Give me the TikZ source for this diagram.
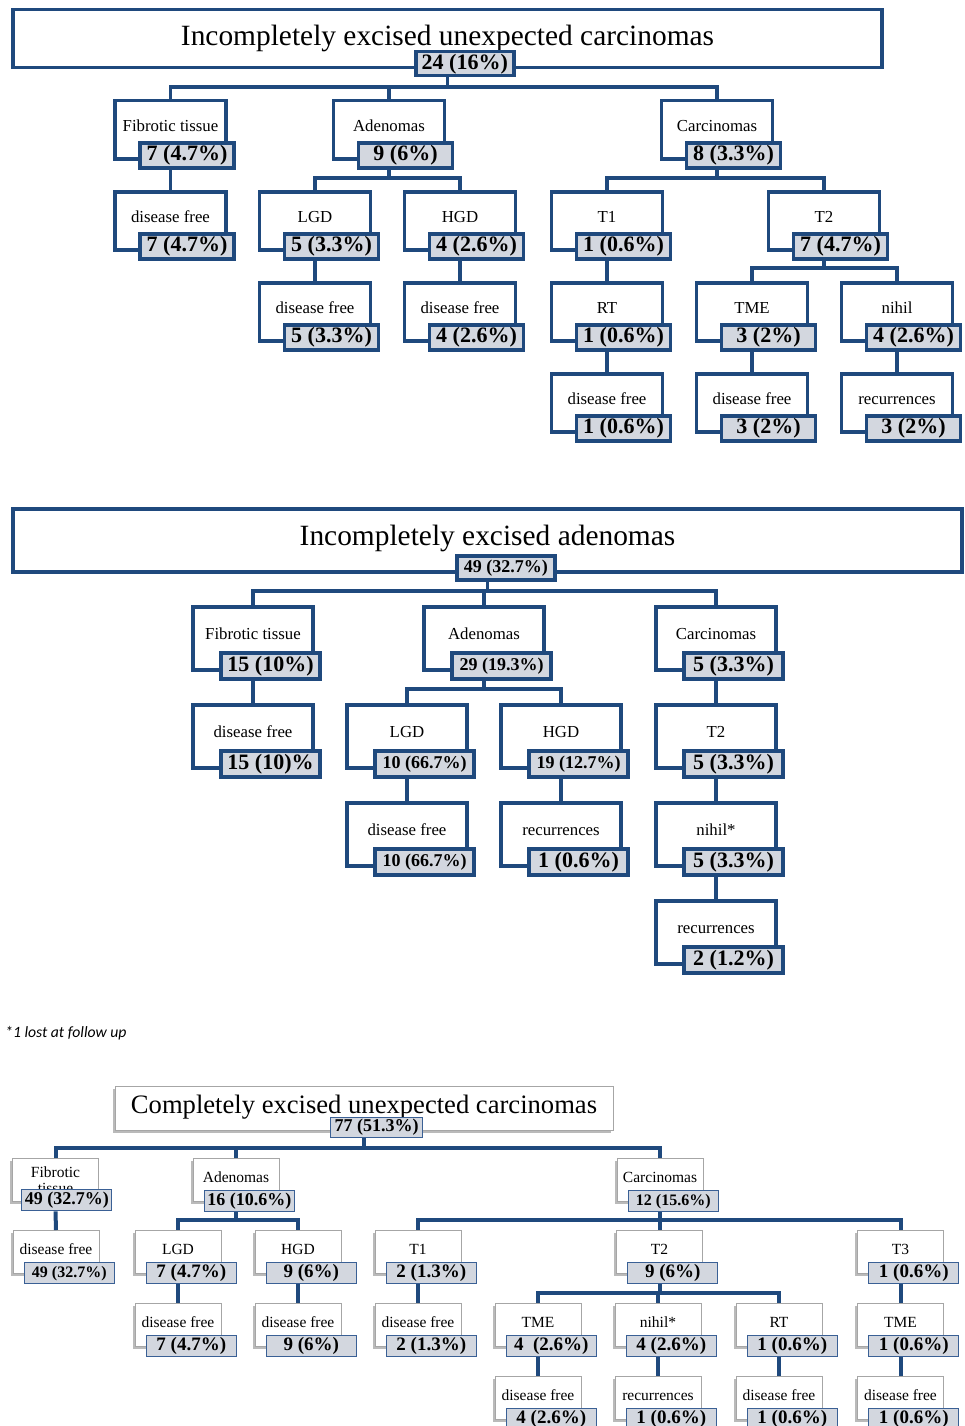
\documentclass[tikz,border=0pt]{standalone}
\usepackage{fontspec}
\setmainfont{Liberation Serif}
\newfontfamily\notefont{Carlito}
\usetikzlibrary{calc,shadows}
\definecolor{dblue}{HTML}{1F497D}
\definecolor{vfill}{HTML}{D3D7DF}
\definecolor{vline}{HTML}{3A6095}
\newcommand\fTitleA{\fontsize{29.4pt}{34pt}\selectfont}
\newcommand\fTitleC{\fontsize{26.6pt}{30pt}\selectfont}
\newcommand\fLabA{\fontsize{16.8pt}{19pt}\selectfont}
\newcommand\fLabC{\fontsize{15.5pt}{16pt}\selectfont}
\newcommand\fValA{\fontsize{22pt}{24pt}\selectfont\bfseries}
\newcommand\fValS{\fontsize{18pt}{20pt}\selectfont\bfseries}
\newcommand\fValC{\fontsize{19pt}{21pt}\selectfont\bfseries}
\newcommand\fValCs{\fontsize{16pt}{18pt}\selectfont\bfseries}
\newcommand\bA[6][\fValA]{%
  \node[wA] (#2) at (#3,#4) {#5};
  \node[vA,font=#1] (#2v) at ($(#2.north west)+(25,42)$) {#6};}
\newcommand\bB[6][\fValA]{%
  \node[wB] (#2) at (#3,#4) {#5};
  \node[vB,font=#1] (#2v) at ($(#2.north west)+(28,46)$) {#6};}
\newcommand\bC[6][\fValC]{%
  \node[wC] (#2) at (#3,#4) {#5};
  \node[vC,font=#1] (#2v) at ($(#2.north west)+(11,32)$) {#6};}
\newcommand\lnS[3][conn]{\draw[#1] (#2 |- #2v.south) -- (#3.north);}
\newcommand\lnB[4][conn]{\draw[#1] (#2 |- #2v.south) |- (#3.north |- #4) -- (#3.north);}
\begin{document}
\begin{tikzpicture}[x=1pt,y=-1pt,
  conn/.style={draw=dblue,line width=3.5pt},
  connC/.style={draw=dblue,line width=4pt},
  wA/.style={anchor=north,draw=dblue,line width=3.5pt,fill=white,minimum width=111pt,inner xsep=0pt,inner ysep=0pt,text height=31pt,text depth=27pt,font=\fLabA},
  vA/.style={anchor=north west,draw=dblue,line width=3.5pt,fill=vfill,minimum width=94pt,minimum height=25pt,inner sep=0pt},
  wB/.style={anchor=north,draw=dblue,line width=3.5pt,fill=white,minimum width=120pt,inner xsep=0pt,inner ysep=0pt,text height=33pt,text depth=30pt,font=\fLabA},
  vB/.style={anchor=north west,draw=dblue,line width=3.5pt,fill=vfill,minimum width=99pt,minimum height=26pt,inner sep=0pt},
  wCbase/.style={anchor=north,draw=black!35,line width=0.8pt,fill=white,minimum width=86pt,inner xsep=0pt,inner ysep=0pt,font=\fLabC,
     drop shadow={shadow xshift=-2.5pt,shadow yshift=-2.5pt,opacity=0.45,fill=black!60}},
  wC/.style={wCbase,text height=24.5pt,text depth=18.5pt},
  vC/.style={anchor=north west,draw=vline,line width=1.3pt,fill=vfill,minimum width=90pt,minimum height=21pt,inner sep=0pt},
  tA/.style={anchor=north,draw=dblue,line width=3.5pt,fill=white,inner sep=0pt,font=\fTitleA}
]
\useasboundingbox (0,0) rectangle (965,1426);
\clip (0,0) rectangle (965,1426);

% ---------------- Section 1 ----------------
\coordinate (a0) at (0,87);
\coordinate (a1) at (0,178);
\coordinate (a2) at (0,268);
\node[tA,minimum width=869pt,text height=36pt,text depth=22pt] (t1) at (447.5,8) {Incompletely excised unexpected carcinomas};
\node[vA,font=\fValA,minimum width=98pt,minimum height=24pt] (t1v) at (414,50) {24 (16\%)};
\bA{A1}{170.5}{99}{Fibrotic tissue}{7 (4.7\%)}
\bA{A2}{389}{99}{Adenomas}{9 (6\%)}
\bA{A3}{717}{99}{Carcinomas}{8 (3.3\%)}
\bA{A11}{170.5}{190}{disease free}{7 (4.7\%)}
\bA{A21}{315}{190}{LGD}{5 (3.3\%)}
\bA{A22}{460}{190}{HGD}{4 (2.6\%)}
\bA{A31}{607}{190}{T1}{1 (0.6\%)}
\bA{A32}{824}{190}{T2}{7 (4.7\%)}
\bA{A211}{315}{281}{disease free}{5 (3.3\%)}
\bA{A221}{460}{281}{disease free}{4 (2.6\%)}
\bA{A311}{607}{281}{RT}{1 (0.6\%)}
\bA{A321}{752}{281}{TME}{3 (2\%)}
\bA{A322}{897}{281}{nihil}{4 (2.6\%)}
\bA{A3111}{607}{372}{disease free}{1 (0.6\%)}
\bA{A3211}{752}{372}{disease free}{3 (2\%)}
\bA{A3221}{897}{372}{recurrences}{3 (2\%)}
\lnB{t1}{A1}{a0}\lnB{t1}{A2}{a0}\lnB{t1}{A3}{a0}
\lnS{A1}{A11}
\lnB{A2}{A21}{a1}\lnB{A2}{A22}{a1}
\lnB{A3}{A31}{a1}\lnB{A3}{A32}{a1}
\lnS{A21}{A211}\lnS{A22}{A221}\lnS{A31}{A311}
\lnB{A32}{A321}{a2}\lnB{A32}{A322}{a2}
\lnS{A311}{A3111}\lnS{A321}{A3211}\lnS{A322}{A3221}

% ---------------- Section 2 ----------------
\coordinate (b0) at (0,591);
\coordinate (b1) at (0,689);
\node[tA,minimum width=949pt,text height=37pt,text depth=26pt] (t2) at (487.5,507) {Incompletely excised adenomas};
\node[vA,font=\fValS,minimum width=98pt,minimum height=24pt] (t2v) at (455,554) {49 (32.7\%)};
\bB{B1}{253}{605}{Fibrotic tissue}{15 (10\%)}
\bB[\fValS]{B2}{484}{605}{Adenomas}{29 (19.3\%)}
\bB{B3}{716}{605}{Carcinomas}{5 (3.3\%)}
\bB{B11}{253}{703}{disease free}{15 (10)\%}
\bB[\fValS]{B21}{407}{703}{LGD}{10 (66.7\%)}
\bB[\fValS]{B22}{561}{703}{HGD}{19 (12.7\%)}
\bB{B31}{716}{703}{T2}{5 (3.3\%)}
\bB[\fValS]{B211}{407}{801}{disease free}{10 (66.7\%)}
\bB{B221}{561}{801}{recurrences}{1 (0.6\%)}
\bB{B311}{716}{801}{nihil*}{5 (3.3\%)}
\bB{B3111}{716}{899}{recurrences}{2 (1.2\%)}
\lnB{t2}{B1}{b0}\lnB{t2}{B2}{b0}\lnB{t2}{B3}{b0}
\lnS{B1}{B11}
\lnB{B2}{B21}{b1}\lnB{B2}{B22}{b1}
\lnS{B3}{B31}
\lnS{B21}{B211}\lnS{B22}{B221}\lnS{B31}{B311}\lnS{B311}{B3111}

\node[anchor=base west,inner sep=0pt,font=\notefont\itshape\fontsize{15.7pt}{18pt}\selectfont] (note) at (5,1037) {*1 lost at follow up};

% ---------------- Section 3 ----------------
\coordinate (c0) at (0,1148);
\coordinate (c1) at (0,1220);
\coordinate (c2) at (0,1293);
\node[wCbase,minimum width=498pt,text height=27pt,text depth=17pt,font=\fTitleC] (t3) at (364,1086) {Completely excised unexpected carcinomas};
\node[vC,font=\fValS,minimum width=92pt,minimum height=20pt] (t3v) at (330,1117) {77 (51.3\%)};
\node[wCbase,align=center,minimum height=43pt] (C1) at (55.5,1158) {Fibrotic\\tissue};
\node[vC,font=\fValS] (C1v) at ($(C1.north west)+(9,31)$) {49 (32.7\%)};
\bC[\fValS]{C2}{236}{1158}{Adenomas}{16 (10.6\%)}
\bC[\fValCs]{C3}{660}{1158}{Carcinomas}{12 (15.6\%)}
\bC[\fValCs]{C11}{56}{1230}{disease free}{49 (32.7\%)}
\bC{C21}{178}{1230}{LGD}{7 (4.7\%)}
\bC{C22}{298}{1230}{HGD}{9 (6\%)}
\bC{C31}{418}{1230}{T1}{2 (1.3\%)}
\bC{C32}{659.5}{1230}{T2}{9 (6\%)}
\bC{C33}{900.5}{1230}{T3}{1 (0.6\%)}
\bC{C211}{178}{1303}{disease free}{7 (4.7\%)}
\bC{C221}{298}{1303}{disease free}{9 (6\%)}
\bC{C311}{418}{1303}{disease free}{2 (1.3\%)}
\bC{C321}{538}{1303}{TME}{4 \ (2.6\%)}
\bC{C322}{658}{1303}{nihil*}{4 (2.6\%)}
\bC{C323}{779}{1303}{RT}{1 (0.6\%)}
\bC{C331}{900.5}{1303}{TME}{1 (0.6\%)}
\bC{C3211}{538}{1376}{disease free}{4 (2.6\%)}
\bC{C3221}{658}{1376}{recurrences}{1 (0.6\%)}
\bC{C3231}{779}{1376}{disease free}{1 (0.6\%)}
\bC{C3311}{900.5}{1376}{disease free}{1 (0.6\%)}
\lnB[connC]{t3}{C1}{c0}\lnB[connC]{t3}{C2}{c0}\lnB[connC]{t3}{C3}{c0}
\lnS[connC]{C1}{C11}
\lnB[connC]{C2}{C21}{c1}\lnB[connC]{C2}{C22}{c1}
\lnB[connC]{C3}{C31}{c1}\lnB[connC]{C3}{C32}{c1}\lnB[connC]{C3}{C33}{c1}
\lnS[connC]{C21}{C211}\lnS[connC]{C22}{C221}\lnS[connC]{C31}{C311}
\lnB[connC]{C32}{C321}{c2}\lnB[connC]{C32}{C322}{c2}\lnB[connC]{C32}{C323}{c2}
\lnS[connC]{C33}{C331}
\lnS[connC]{C321}{C3211}\lnS[connC]{C322}{C3221}\lnS[connC]{C323}{C3231}\lnS[connC]{C331}{C3311}
\end{tikzpicture}
\end{document}
